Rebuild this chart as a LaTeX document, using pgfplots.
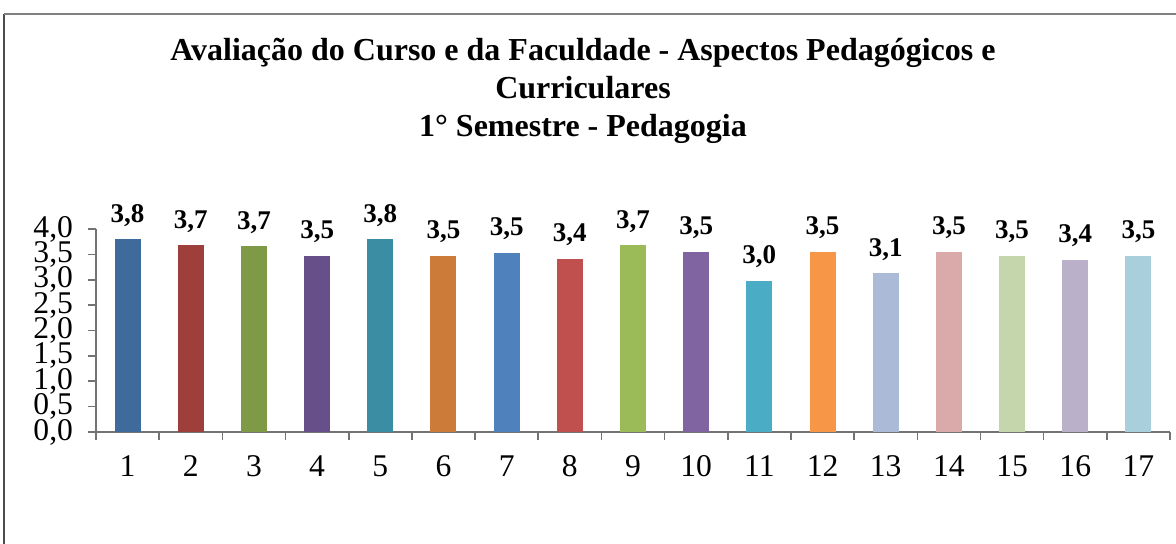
\documentclass[border=0pt]{standalone}
\usepackage{pgfplots}
\pgfplotsset{compat=1.18}
\usepackage{fontspec}
\setmainfont{Liberation Serif}
\definecolor{c1}{HTML}{3F6A9C}
\definecolor{c2}{HTML}{9E3F3C}
\definecolor{c3}{HTML}{7E9A47}
\definecolor{c4}{HTML}{67508A}
\definecolor{c5}{HTML}{3A8DA3}
\definecolor{c6}{HTML}{CC7B38}
\definecolor{c7}{HTML}{4F81BD}
\definecolor{c8}{HTML}{C0504D}
\definecolor{c9}{HTML}{9BBB59}
\definecolor{c10}{HTML}{8064A2}
\definecolor{c11}{HTML}{4BACC6}
\definecolor{c12}{HTML}{F79646}
\definecolor{c13}{HTML}{AABAD7}
\definecolor{c14}{HTML}{D9AAA9}
\definecolor{c15}{HTML}{C6D6AC}
\definecolor{c16}{HTML}{BAB0C9}
\definecolor{c17}{HTML}{A9CEDC}
\begin{document}
\begin{tikzpicture}[x=1bp,y=1bp]
\useasboundingbox (0,0) rectangle (588,271.5);
\draw[black!70, line width=1bp] (2,-10) -- (2,264.5);
\draw[black!50, line width=1.2bp] (2,264.5) -- (600,264.5);
\begin{scope}[every node/.style={font=\fontsize{16bp}{18.75bp}\selectfont\bfseries, anchor=base, inner sep=0pt}]
\node at (291.5,241.5) {Avaliação do Curso e da Faculdade - Aspectos Pedagógicos e};
\node at (291.5,222.5) {Curriculares};
\node at (291.5,203.5) {1° Semestre - Pedagogia};
\end{scope}
\begin{axis}[
  at={(48bp,55.5bp)}, anchor=south west,
  scale only axis, width=537bp, height=101.5bp,
  xmin=0.5, xmax=17.5, ymin=0, ymax=4,
  axis lines=left, axis line style={-, black!55, line width=0.8bp},
  ytick={0,0.5,...,4},
  xtick={1,...,17},
  minor xtick={0.5,1.5,...,17.5},
  tick align=outside,
  major tick length=4bp,
  minor tick length=4bp,
  every tick/.style={black!55, line width=0.8bp},
  major x tick style={draw=none},
  ticklabel style={font=\fontsize{15.8bp}{15.8bp}\selectfont},
  /pgf/number format/assume math mode=true,
  yticklabel style={/pgf/number format/.cd, use comma, fixed, fixed zerofill, precision=1, /tikz/.cd, xshift=-4bp},
  xticklabel style={anchor=base, yshift=-18.3bp},
  ybar, bar width=13bp, bar shift=0pt,
  nodes near coords style={font=\fontsize{13.5bp}{13.5bp}\selectfont\bfseries, anchor=base, yshift=8.5bp},
  clip=false,
]
\addplot[fill=c1, draw=none, nodes near coords={3,8}] coordinates {(1,3.80)};
\addplot[fill=c2, draw=none, nodes near coords={3,7}] coordinates {(2,3.68)};
\addplot[fill=c3, draw=none, nodes near coords={3,7}] coordinates {(3,3.66)};
\addplot[fill=c4, draw=none, nodes near coords={3,5}] coordinates {(4,3.47)};
\addplot[fill=c5, draw=none, nodes near coords={3,8}] coordinates {(5,3.80)};
\addplot[fill=c6, draw=none, nodes near coords={3,5}] coordinates {(6,3.47)};
\addplot[fill=c7, draw=none, nodes near coords={3,5}] coordinates {(7,3.53)};
\addplot[fill=c8, draw=none, nodes near coords={3,4}] coordinates {(8,3.41)};
\addplot[fill=c9, draw=none, nodes near coords={3,7}] coordinates {(9,3.68)};
\addplot[fill=c10, draw=none, nodes near coords={3,5}] coordinates {(10,3.55)};
\addplot[fill=c11, draw=none, nodes near coords={3,0}] coordinates {(11,2.98)};
\addplot[fill=c12, draw=none, nodes near coords={3,5}] coordinates {(12,3.55)};
\addplot[fill=c13, draw=none, nodes near coords={3,1}] coordinates {(13,3.13)};
\addplot[fill=c14, draw=none, nodes near coords={3,5}] coordinates {(14,3.55)};
\addplot[fill=c15, draw=none, nodes near coords={3,5}] coordinates {(15,3.47)};
\addplot[fill=c16, draw=none, nodes near coords={3,4}] coordinates {(16,3.39)};
\addplot[fill=c17, draw=none, nodes near coords={3,5}] coordinates {(17,3.47)};
\end{axis}
\end{tikzpicture}
\end{document}
